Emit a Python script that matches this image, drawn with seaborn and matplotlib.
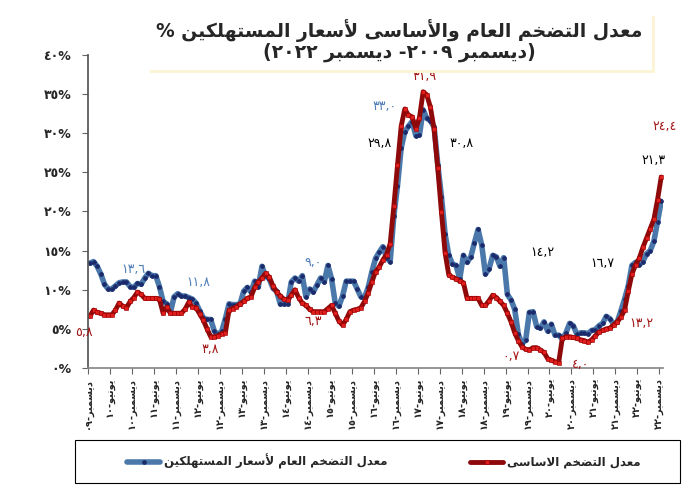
import numpy as np
import pandas as pd
import matplotlib
matplotlib.use("Agg")
import matplotlib.pyplot as plt
import seaborn as sns
from matplotlib.patches import Rectangle

# ------------------------------
# Data (monthly, Dec 2009 .. Dec 2022), in %
# ------------------------------
headline = [13.4,
            13.6, 13.0, 12.0, 10.7, 10.1, 10.1, 10.5, 10.9, 11.0, 11.0, 10.4, 10.3,
            10.8, 10.7, 11.5, 12.1, 11.8, 11.8, 10.4, 8.5, 8.2, 7.1, 9.1, 9.5,
            9.2, 9.2, 9.0, 8.8, 8.3, 7.3, 6.4, 6.2, 6.2, 4.7, 4.3, 4.7,
            6.3, 8.2, 8.1, 8.1, 8.2, 9.8, 10.3, 9.7, 11.1, 10.4, 13.0, 11.7,
            11.4, 10.2, 9.8, 8.2, 8.2, 8.2, 11.0, 11.5, 11.1, 11.8, 9.1, 10.1,
            9.7, 10.6, 11.5, 11.0, 13.1, 11.4, 8.3, 7.9, 9.2, 11.1, 11.1, 11.1,
            10.1, 9.1, 9.0, 10.3, 12.3, 14.0, 14.8, 15.5, 14.1, 13.6, 19.4, 23.3,
            28.1, 30.2, 30.9, 31.5, 29.7, 29.8, 33.0, 31.9, 31.6, 30.8, 26.0, 21.9,
            17.1, 14.4, 13.3, 13.1, 11.4, 14.4, 13.5, 14.2, 16.0, 17.7, 15.7, 12.0,
            12.7, 14.4, 14.2, 13.0, 14.1, 9.4, 8.7, 7.5, 4.3, 3.1, 3.6, 7.1,
            7.2, 5.3, 5.1, 5.9, 4.7, 5.6, 4.2, 4.2, 3.7, 4.5, 5.7, 5.4,
            4.3, 4.5, 4.5, 4.4, 4.8, 4.9, 5.4, 5.7, 6.6, 6.3, 5.6, 5.9,
            7.3, 8.8, 10.5, 13.1, 13.5, 13.2, 13.6, 14.6, 15.0, 16.2, 18.7, 21.3]

core = [6.6,
        7.4, 7.1, 7.0, 6.8, 6.8, 6.8, 7.4, 8.3, 7.9, 7.7, 8.5, 9.0,
        9.7, 9.4, 8.9, 8.9, 8.9, 8.9, 8.8, 7.0, 7.8, 7.0, 7.0, 7.0,
        7.0, 7.5, 8.4, 7.8, 7.7, 6.9, 6.1, 5.0, 4.0, 4.0, 4.1, 4.4,
        4.5, 7.4, 7.6, 7.8, 8.2, 8.5, 8.9, 9.1, 10.3, 11.0, 11.5, 12.1,
        11.6, 10.5, 9.7, 9.2, 8.8, 8.7, 9.3, 10.0, 9.0, 8.3, 8.0, 7.5,
        7.2, 7.2, 7.2, 7.2, 7.6, 8.0, 7.0, 6.0, 5.5, 6.2, 7.2, 7.4,
        7.5, 7.7, 8.5, 9.6, 11.0, 12.3, 12.9, 13.8, 14.5, 15.9, 20.7, 25.9,
        30.9, 33.1, 32.3, 32.1, 30.6, 32.0, 35.3, 34.9, 33.3, 30.5, 25.5, 19.9,
        14.7, 11.9, 11.6, 11.4, 11.1, 10.9, 8.9, 8.9, 8.9, 8.9, 8.0, 8.0,
        8.6, 9.3, 9.0, 8.5, 8.0, 7.0, 5.9, 4.5, 3.5, 2.7, 2.4, 2.3,
        2.6, 2.6, 2.3, 2.0, 1.2, 1.0, 0.8, 0.7, 3.8, 4.0, 4.0, 3.9,
        3.8, 3.6, 3.5, 3.3, 3.6, 4.1, 4.6, 4.8, 5.0, 5.1, 5.5, 5.9,
        6.5, 7.4, 9.8, 12.0, 13.2, 14.0, 15.4, 16.6, 17.8, 19.0, 21.5, 24.4]

tick_labels = ["ديسمبر-٠٩", "يونيو-١٠", "ديسمبر-١٠", "يونيو-١١", "ديسمبر-١١",
               "يونيو-١٢", "ديسمبر-١٢", "يونيو-١٣", "ديسمبر-١٣", "يونيو-١٤",
               "ديسمبر-١٤", "يونيو-١٥", "ديسمبر-١٥", "يونيو-١٦", "ديسمبر-١٦",
               "يونيو-١٧", "ديسمبر-١٧", "يونيو-١٨", "ديسمبر-١٨", "يونيو-١٩",
               "ديسمبر-١٩", "يونيو-٢٠", "ديسمبر-٢٠", "يونيو-٢١", "ديسمبر-٢١",
               "يونيو-٢٢", "ديسمبر-٢٢"]
y_ticks = [0, 5, 10, 15, 20, 25, 30, 35, 40]
y_tick_labels = ["٠%", "٥%", "١٠%", "١٥%", "٢٠%", "٢٥%", "٣٠%", "٣٥%", "٤٠%"]

title_1 = "معدل التضخم العام والأساسى لأسعار المستهلكين %"
title_2 = "(ديسمبر ٢٠٠٩- ديسمبر ٢٠٢٢)"
name_headline = "معدل التضخم العام لأسعار المستهلكين"
name_core = "معدل التضخم الاساسى"

# value labels: (text, month index, y, colour key)
value_labels = [("١٣,٦", 12, 12.6, "b"), ("١١,٨", 29.5, 10.9, "b"),
                ("٩,٠", 61, 13.5, "b"), ("٣٣,٠", 80.5, 33.4, "b"),
                ("٢٩,٨", 79, 28.7, "k"), ("٣٠,٨", 101.5, 28.7, "k"),
                ("١٤,٢", 123.5, 14.7, "k"), ("١٦,٧", 140, 13.4, "k"),
                ("٢١,٣", 154, 26.5, "k"),
                ("٥,٨", -1.5, 4.6, "r"), ("٣,٨", 33, 2.4, "r"),
                ("٦,٣", 61, 6.0, "r"), ("٣١,٩", 91.5, 37.3, "r"),
                ("٠,٧", 115, 1.5, "r"), ("٤,٠", 134, 0.4, "r"),
                ("١٣,٢", 150.5, 5.7, "r"), ("٢٤,٤", 157, 30.8, "r")]

# ------------------------------
# small Arabic shaper (matplotlib has no text shaping)
# ------------------------------
FORMS = {
    "ا": ("\uFE8D", "\uFE8E", None, None),
    "أ": ("\uFE83", "\uFE84", None, None),
    "ب": ("\uFE8F", "\uFE90", "\uFE91", "\uFE92"),
    "ت": ("\uFE95", "\uFE96", "\uFE97", "\uFE98"),
    "خ": ("\uFEA5", "\uFEA6", "\uFEA7", "\uFEA8"),
    "د": ("\uFEA9", "\uFEAA", None, None),
    "ر": ("\uFEAD", "\uFEAE", None, None),
    "س": ("\uFEB1", "\uFEB2", "\uFEB3", "\uFEB4"),
    "ض": ("\uFEBD", "\uFEBE", "\uFEBF", "\uFEC0"),
    "ع": ("\uFEC9", "\uFECA", "\uFECB", "\uFECC"),
    "ك": ("\uFED9", "\uFEDA", "\uFEDB", "\uFEDC"),
    "ل": ("\uFEDD", "\uFEDE", "\uFEDF", "\uFEE0"),
    "م": ("\uFEE1", "\uFEE2", "\uFEE3", "\uFEE4"),
    "ن": ("\uFEE5", "\uFEE6", "\uFEE7", "\uFEE8"),
    "ه": ("\uFEE9", "\uFEEA", "\uFEEB", "\uFEEC"),
    "و": ("\uFEED", "\uFEEE", None, None),
    "ى": ("\uFEEF", "\uFEF0", None, None),
    "ي": ("\uFEF1", "\uFEF2", "\uFEF3", "\uFEF4"),
    "لا": ("\uFEFB", "\uFEFC", None, None),
    "لأ": ("\uFEF7", "\uFEF8", None, None),
}
DIGITS = set("0123456789٠١٢٣٤٥٦٧٨٩,.")
MIRROR = {"(": ")", ")": "("}


def ar(text):
    units = []
    i = 0
    while i < len(text):
        if text[i] == "ل" and i + 1 < len(text) and text[i + 1] in "اأ":
            units.append(text[i:i + 2])
            i += 2
        else:
            units.append(text[i])
            i += 1
    shaped = []
    for k, u in enumerate(units):
        if u not in FORMS:
            shaped.append(u)
            continue
        iso, fin, ini, med = FORMS[u]
        prev = units[k - 1] if k > 0 else None
        nxt = units[k + 1] if k + 1 < len(units) else None
        jp = prev in FORMS and FORMS[prev][2] is not None
        jn = ini is not None and nxt in FORMS
        shaped.append(med if (jp and jn) else fin if jp else ini if jn else iso)
    runs = []
    for ch in shaped:
        if ch in DIGITS:
            if runs and runs[-1][0] == "ltr":
                runs[-1][1] += ch
            else:
                runs.append(["ltr", ch])
        else:
            runs.append(["rtl", MIRROR.get(ch, ch)])
    return "".join(r[1] for r in reversed(runs))


# ------------------------------
# Plot
# ------------------------------
sns.set_theme(style="white")
plt.rcParams["font.family"] = ["DejaVu Sans"]

df = pd.DataFrame({"month": pd.period_range("2009-12", "2022-12", freq="M").astype(str),
                   "headline": headline, "core": core})
df["pos"] = np.arange(len(df))

blue = "#4A78AA"
red = "#8E0A0A"

fig = plt.figure(figsize=(6.98, 4.91), dpi=100)
ax = fig.add_axes([0.1261, 0.2505, 0.8238, 0.6375])

sns.lineplot(data=df, x="pos", y="headline", ax=ax, color=blue, lw=4.0,
             marker="o", markersize=2.6, markerfacecolor="#1B2A6B",
             markeredgecolor="#1B2A6B", label=ar(name_headline), legend=False)
sns.lineplot(data=df, x="pos", y="core", ax=ax, color=red, lw=3.5,
             marker="s", markersize=2.6, markerfacecolor="#E01E1E",
             markeredgecolor="#9B0000", markeredgewidth=0.4,
             label=ar(name_core), legend=False)

ax.set_xlim(-0.5, 156.5)
ax.set_ylim(0, 40)
ax.set_xlabel("")
ax.set_ylabel("")

tick_pos = np.arange(len(tick_labels)) * 6 - 0.5
ax.set_xticks(tick_pos)
ax.set_xticklabels([ar(t) for t in tick_labels], rotation=90, fontsize=7,
                   fontweight="bold", va="top", ha="center")
ax.set_yticks(y_ticks)
ax.set_yticklabels(y_tick_labels, fontsize=9, fontweight="bold")
ax.tick_params(axis="both", direction="out", length=4, width=0.8, color="#666666",
               bottom=True, left=True, pad=3)
ax.tick_params(axis="y", pad=8)

for side in ["top", "right"]:
    ax.spines[side].set_visible(False)
ax.spines["left"].set_color("#555555")
ax.spines["bottom"].set_color("#888888")
ax.grid(False)

label_colors = {"b": "#4F7FB5", "k": "black", "r": "#A31515"}
for text, xv, yv, c in value_labels:
    ax.text(xv, yv, text, color=label_colors[c], fontsize=9, ha="center",
            va="center", clip_on=False)

# title box with a soft cream shadow
fig.patches.append(Rectangle((0.215, 0.851), 0.724, 0.117, transform=fig.transFigure,
                             facecolor="#FBF5D6", edgecolor="none", zorder=0))
fig.patches.append(Rectangle((0.212, 0.857), 0.722, 0.117, transform=fig.transFigure,
                             facecolor="white", edgecolor="none", zorder=1))
fig.text(0.572, 0.938, ar(title_1), fontsize=13.5, fontweight="bold", ha="center",
         va="center", zorder=2)
fig.text(0.572, 0.893, ar(title_2), fontsize=13.5, fontweight="bold", ha="center",
         va="center", zorder=2)

# legend box
fig.patches.append(Rectangle((0.107, 0.016), 0.867, 0.088, transform=fig.transFigure,
                             facecolor="white", edgecolor="black", lw=0.8))
handles, labels = ax.get_legend_handles_labels()
fig.legend(handles, labels, ncol=2, loc="center", bbox_to_anchor=(0.55, 0.06),
           frameon=False, handlelength=2.8, handletextpad=0.3, columnspacing=7,
           prop={"weight": "bold", "size": 8.5})

fig.savefig("out.png", dpi=100)
